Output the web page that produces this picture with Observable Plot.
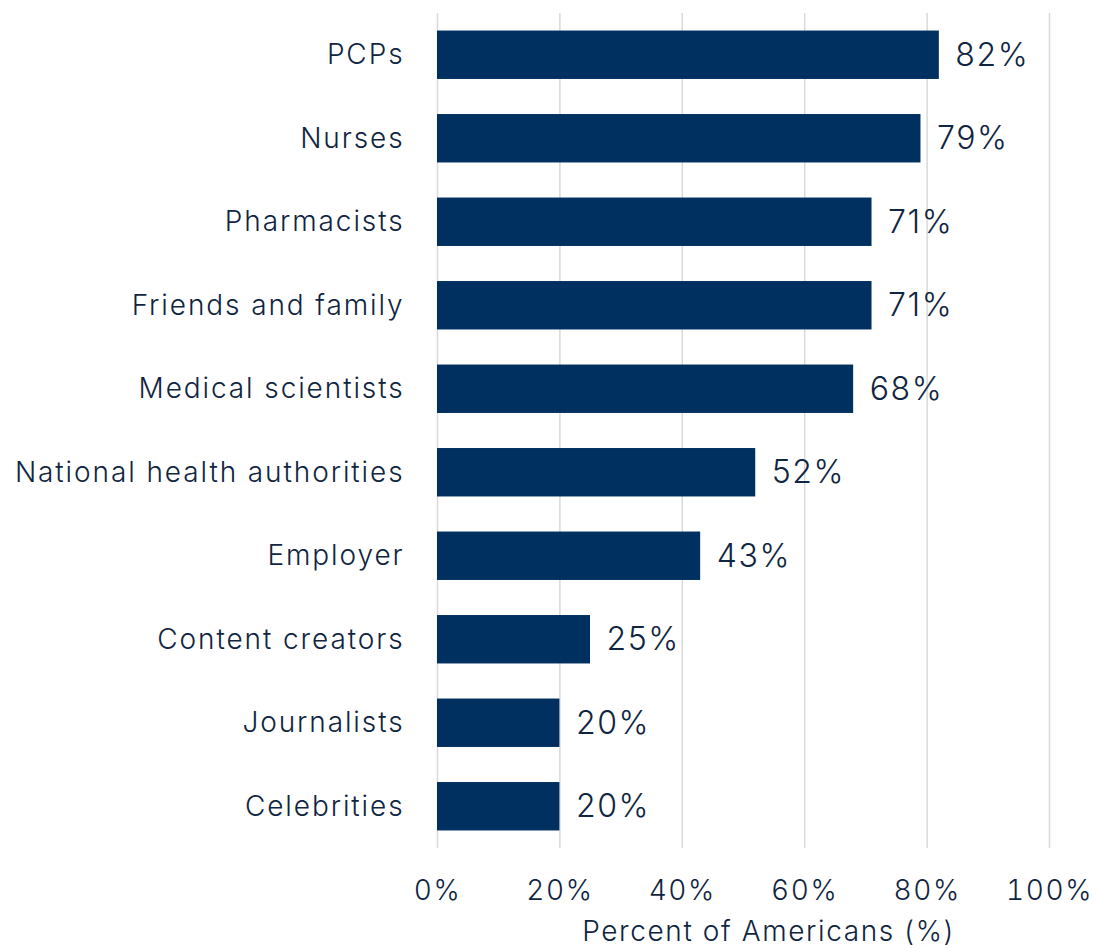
<!DOCTYPE html>
<html>
<head>
<meta charset="utf-8">
<script src="https://cdn.jsdelivr.net/npm/d3@7"></script>
<script src="https://cdn.jsdelivr.net/npm/@observablehq/plot@0.6"></script>
<style>
  html, body { margin: 0; padding: 0; background: #fff; }
  #chart svg { display: block; }
  #chart svg text { letter-spacing: 1.6px; }
  #chart svg g[aria-label="y-axis tick label"] text { letter-spacing: 1.9px; }
</style>
</head>
<body>
<div id="chart"></div>
<script>
const categories = ["PCPs", "Nurses", "Pharmacists", "Friends and family", "Medical scientists",
  "National health authorities", "Employer", "Content creators", "Journalists", "Celebrities"];
const values = [82, 79, 71, 71, 68, 52, 43, 25, 20, 20];
const xTicks = [0, 20, 40, 60, 80, 100];
const xTitle = "Percent of Americans (%)";

const data = categories.map((c, i) => ({category: c, value: values[i]}));
const textColor = "#10253f";
const barColor = "#00305f";

const chart = Plot.plot({
  width: 1093,
  height: 949,
  marginLeft: 437,
  marginRight: 44,
  marginTop: 13,
  marginBottom: 101,
  style: {fontFamily: "Inter, 'Noto Sans', sans-serif", color: textColor, background: "#fff", fontWeight: 300},
  x: {domain: [0, 100], ticks: xTicks, label: null},
  y: {domain: categories, paddingInner: 0.42, paddingOuter: 0.21, round: false, label: null},
  marks: [
    Plot.ruleX(xTicks, {stroke: "#d9d9d9", strokeWidth: 1.5}),
    Plot.barX(data, {x: "value", y: "category", fill: barColor}),
    Plot.text(data, {x: "value", y: "category", text: d => d.value + "%", textAnchor: "start", dx: 16, fontSize: 32, fill: textColor}),
    Plot.axisY({tickSize: 0, tickPadding: 33, fontSize: 28, fill: textColor}),
    Plot.axisX({ticks: xTicks, tickSize: 0, tickPadding: 32, fontSize: 28, fill: textColor, tickFormat: d => d + "%", label: null}),
    Plot.text([xTitle], {frameAnchor: "bottom", dx: 25, dy: 92, fontSize: 28, fill: textColor, text: d => d})
  ]
});
document.getElementById("chart").appendChild(chart);
</script>
</body>
</html>
